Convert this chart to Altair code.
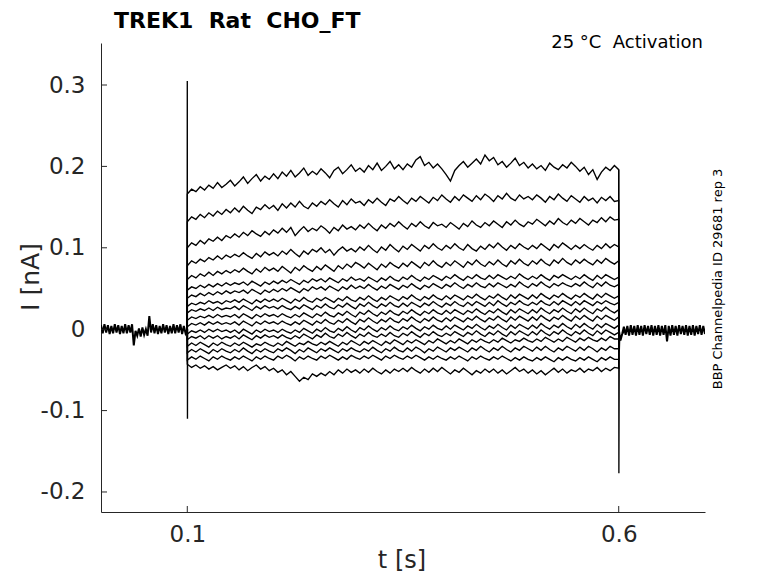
import altair as alt
import numpy as np
import pandas as pd

# ---- data (currents in pA), one value every 5 ms from 0.100 to 0.600 s ----
step_times = np.round(np.linspace(0.1, 0.6, 101), 4)

T1 = [166,172,169,175,171,177,173,180,174,178,
      183,176,181,187,179,185,190,182,188,184,
      191,185,193,188,195,187,192,198,189,194,
      190,197,192,186,195,199,191,196,202,194,
      198,193,201,196,204,195,200,206,197,202,
      196,203,199,208,212,201,205,198,203,197,
      190,182,195,201,206,199,204,209,203,214,
      207,211,202,206,199,204,210,201,205,198,
      203,197,201,195,204,199,196,202,198,205,
      200,194,199,190,196,184,193,199,195,201,
      196]
T2 = [132,138,135,141,137,143,139,145,141,147,
      143,149,144,151,146,142,150,147,153,148,
      152,146,154,149,155,150,157,151,148,155,
      151,157,153,159,154,150,158,153,160,155,
      157,152,159,155,161,156,152,160,157,163,
      158,154,161,157,163,159,155,162,158,165,
      160,156,163,158,165,161,157,164,159,166,
      162,157,164,160,167,161,158,165,160,163,
      159,165,161,156,163,159,166,161,157,164,
      160,156,163,158,161,155,162,158,163,157,
      158]
T3 = [100,106,103,109,105,111,108,113,109,115,
      112,117,113,119,115,121,117,114,120,116,
      122,118,124,119,125,115,121,126,120,124,
      121,127,123,118,125,121,128,123,126,122,
      128,124,130,125,121,128,124,130,126,132,
      127,123,130,126,132,127,124,131,127,129,
      125,131,127,123,130,126,133,128,125,131,
      127,133,129,125,132,128,134,129,126,132,
      129,135,131,127,133,129,136,131,128,134,
      130,136,132,128,134,131,137,132,138,134,
      135]
T4 = [78,84,81,86,83,88,85,90,86,91,
      88,92,89,94,90,87,93,89,95,91,
      94,90,96,92,98,93,89,96,92,98,
      95,100,94,98,91,97,101,96,99,95,
      101,97,103,98,94,101,97,104,99,95,
      102,98,104,100,96,103,99,105,100,97,
      103,99,105,100,97,104,99,96,102,98,
      104,100,106,101,97,103,99,105,101,98,
      103,99,105,101,97,104,100,106,102,98,
      103,99,104,100,97,103,99,105,100,104,
      101]
T5 = [61,66,63,68,65,70,66,71,68,72,
      69,73,70,75,71,68,74,70,76,72,
      75,71,77,73,69,76,72,78,74,71,
      77,73,79,75,71,78,74,80,76,82,
      79,75,81,77,73,80,76,82,78,75,
      81,77,83,79,75,82,78,84,79,76,
      82,78,84,80,76,83,79,85,80,77,
      83,79,85,80,77,84,80,86,81,78,
      84,80,86,81,78,85,81,87,82,79,
      85,81,86,82,79,85,81,87,83,80,
      84]
T6 = [48,52,50,54,51,55,52,56,53,57,
      54,57,55,58,54,59,56,53,58,55,
      59,56,60,57,61,58,55,60,57,62,
      59,62,58,63,60,57,62,59,64,60,
      62,59,64,61,58,63,60,65,61,59,
      64,61,66,62,59,64,61,66,63,60,
      65,62,67,63,60,65,62,67,63,61,
      66,62,67,64,61,65,62,68,64,61,
      65,62,67,63,60,66,63,67,64,61,
      65,62,67,63,60,66,62,67,64,61,
      64]
T7 = [38,42,40,44,41,45,42,46,43,47,
      44,47,45,48,44,49,46,43,48,45,
      49,46,50,47,51,48,45,50,47,52,
      49,52,48,53,50,47,52,49,54,50,
      53,50,55,51,48,53,50,55,52,49,
      54,51,56,52,49,54,51,56,53,50,
      55,52,57,53,50,55,52,57,53,51,
      56,52,57,54,51,55,52,58,54,51,
      56,53,58,54,51,56,53,57,54,52,
      56,53,58,54,51,57,53,58,54,52,
      55]
T8 = [28,32,30,33,31,35,32,34,31,35,
      33,36,33,37,34,31,36,33,37,34,
      37,34,38,35,32,37,34,39,35,33,
      38,35,39,36,33,38,35,40,36,34,
      39,36,41,37,34,39,36,41,38,35,
      40,37,42,38,35,40,37,42,38,36,
      41,37,42,39,36,41,38,43,39,36,
      41,38,43,39,36,42,38,43,40,37,
      42,38,44,40,37,42,39,44,40,37,
      42,39,44,40,37,43,39,44,41,38,
      41]
T9 = [20,24,22,25,23,26,23,27,24,26,
      25,28,24,29,26,23,28,25,29,26,
      28,25,29,26,24,28,25,30,27,24,
      29,26,31,27,25,30,27,32,28,25,
      31,28,33,29,26,31,28,33,29,27,
      32,28,33,30,27,32,29,34,30,27,
      32,29,34,30,28,33,29,34,31,28,
      33,29,35,31,28,33,30,35,31,29,
      33,30,35,31,29,34,30,35,32,29,
      34,30,35,32,29,34,31,35,32,30,
      33]
T10 = [11,15,13,16,14,17,14,18,15,17,
       15,18,14,19,16,13,18,15,19,16,
       18,15,19,16,14,18,15,20,17,14,
       19,16,21,17,15,20,17,22,18,15,
       21,18,23,19,16,21,18,23,19,17,
       22,19,24,20,17,22,19,24,20,18,
       23,19,24,21,18,23,20,25,21,18,
       23,20,25,21,18,24,20,25,22,19,
       24,20,26,22,19,24,21,26,22,19,
       25,21,26,22,19,25,22,27,23,20,
       24]
T11 = [3,7,5,8,5,9,6,9,6,8,
       6,9,5,10,7,4,9,6,10,7,
       9,6,10,7,5,9,6,11,8,5,
       10,7,12,8,6,11,8,13,9,6,
       12,9,14,10,7,12,9,14,10,8,
       13,10,15,11,8,13,10,15,11,9,
       14,10,15,12,9,14,11,16,12,9,
       14,11,16,12,9,15,11,16,13,10,
       15,11,17,13,10,15,12,17,13,10,
       16,12,17,13,10,16,12,17,14,11,
       15]
T12 = [-6,-2,-4,-1,-4,0,-3,0,-3,-1,
       -4,-1,-5,0,-3,-6,-1,-4,0,-3,
       -1,-4,0,-3,-5,-1,-4,1,-2,-5,
       0,-3,2,-2,-4,1,-2,3,-1,-4,
       2,-1,4,0,-3,2,-1,4,0,-2,
       3,0,5,1,-2,3,0,5,1,-1,
       4,0,5,2,-1,4,1,6,2,-1,
       4,1,6,2,-1,5,1,6,3,0,
       5,1,7,3,0,5,2,7,3,0,
       6,2,7,3,0,6,2,7,4,1,
       5]
T13 = [-13,-9,-11,-8,-12,-8,-11,-8,-12,-9,
       -11,-8,-12,-7,-10,-13,-8,-11,-7,-10,
       -8,-11,-7,-10,-12,-8,-11,-6,-9,-12,
       -7,-10,-5,-9,-11,-6,-9,-4,-8,-11,
       -6,-9,-4,-8,-10,-6,-9,-4,-8,-10,
       -5,-8,-3,-7,-10,-5,-8,-3,-7,-9,
       -5,-8,-3,-6,-9,-4,-7,-2,-6,-9,
       -4,-7,-2,-6,-9,-3,-7,-2,-5,-8,
       -3,-7,-1,-5,-8,-3,-6,-1,-5,-8,
       -3,-6,-1,-5,-8,-2,-6,-1,-4,-7,
       -4]
T14 = [-21,-17,-20,-16,-19,-22,-17,-20,-16,-19,
       -21,-17,-20,-16,-19,-22,-18,-20,-16,-19,
       -21,-17,-20,-15,-18,-21,-17,-19,-15,-18,
       -20,-16,-19,-15,-18,-21,-16,-19,-14,-17,
       -20,-15,-18,-14,-17,-20,-15,-18,-13,-16,
       -19,-14,-17,-13,-16,-19,-14,-17,-12,-15,
       -18,-14,-17,-12,-15,-18,-13,-16,-12,-15,
       -17,-13,-16,-11,-14,-17,-13,-15,-11,-14,
       -16,-12,-15,-10,-13,-16,-12,-15,-10,-13,
       -16,-11,-14,-10,-13,-15,-11,-14,-9,-12,
       -12]
T15 = [-29,-25,-28,-24,-27,-30,-25,-28,-24,-27,
       -29,-25,-28,-23,-27,-30,-25,-28,-24,-27,
       -29,-24,-27,-23,-26,-30,-25,-28,-23,-26,
       -29,-24,-27,-23,-26,-29,-24,-27,-23,-26,
       -28,-24,-27,-22,-26,-29,-24,-27,-22,-26,
       -28,-23,-27,-22,-25,-29,-24,-27,-22,-25,
       -28,-23,-26,-22,-25,-28,-23,-26,-21,-25,
       -28,-23,-26,-21,-25,-28,-23,-26,-21,-24,
       -27,-22,-26,-21,-25,-28,-23,-26,-21,-24,
       -27,-22,-26,-21,-24,-28,-23,-26,-21,-24,
       -24]
T16 = [-38,-34,-37,-33,-36,-39,-34,-37,-33,-36,
       -38,-34,-37,-33,-36,-39,-34,-37,-33,-36,
       -38,-33,-36,-32,-35,-39,-34,-37,-33,-36,
       -38,-33,-36,-32,-35,-38,-34,-37,-32,-35,
       -37,-33,-36,-32,-35,-38,-33,-36,-32,-35,
       -37,-33,-36,-32,-35,-38,-34,-37,-33,-36,
       -38,-34,-37,-33,-36,-39,-34,-37,-33,-36,
       -38,-34,-37,-33,-36,-39,-35,-38,-34,-37,
       -39,-35,-38,-34,-37,-40,-35,-38,-34,-37,
       -39,-35,-38,-34,-37,-40,-35,-38,-34,-37,
       -37]
T17 = [-43,-47,-44,-48,-45,-49,-46,-50,-47,-44,
       -48,-45,-50,-46,-51,-47,-44,-49,-46,-51,
       -48,-53,-50,-56,-52,-58,-64,-59,-62,-55,
       -58,-54,-57,-52,-56,-50,-54,-49,-53,-50,
       -54,-49,-53,-48,-52,-55,-50,-54,-49,-52,
       -48,-52,-47,-51,-54,-49,-53,-48,-52,-47,
       -51,-55,-50,-53,-48,-52,-56,-51,-54,-49,
       -53,-49,-54,-50,-55,-51,-47,-52,-49,-54,
       -50,-55,-51,-56,-52,-48,-53,-49,-54,-50,
       -52,-48,-53,-49,-51,-47,-52,-48,-51,-47,
       -48]
traces = [T1, T2, T3, T4, T5, T6, T7, T8, T9, T10, T11, T12, T13, T14, T15, T16, T17]

# holding current before / after the step (pA), every 2 ms
pre_times = np.round(np.arange(0.0, 0.0999, 0.002), 4)
pre_vals = [5,-5,6,-4,5,-6,4,-5,6,-4,
            5,-6,4,-5,6,-5,5,-4,6,-20,
            -2,-8,1,-9,2,-7,0,-8,16,-4,
            6,-5,5,-6,4,-5,6,-4,5,-6,
            4,-5,6,-5,5,-4,6,-6,4,-5]
post_times = np.round(np.arange(0.602, 0.7001, 0.002), 4)
post_vals = [-14,-6,3,-7,4,-8,5,-7,4,-8,
             5,-7,4,-8,5,-6,4,-7,5,-8,
             4,-7,5,-8,4,-7,5,-15,4,-8,
             5,-7,4,-8,5,-6,4,-7,5,-8,
             4,-7,5,-8,4,-6,5,-7,4,-6]

# capacitive transients (nA)
on_t = [0.0998, 0.1, 0.1002, 0.1004]
on_i = [0.0, 0.305, -0.11, 0.0]
off_t = [0.6, 0.6002, 0.6006, 0.601, 0.603, 0.606]
off_i = [0.196, -0.177, -0.03, -0.015, -0.008, -0.003]

y_ticks = [-0.2, -0.1, 0, 0.1, 0.2, 0.3]
x_ticks = [0.1, 0.6]

# ---- build tables ----
rows = []
for k, tr in enumerate(traces):
    assert len(tr) == len(step_times), (k, len(tr))
    rows.append(dict(series=f"s{k}", t=0.1, i=0.0, seq=0))
    for j, (t, v) in enumerate(zip(step_times, tr)):
        rows.append(dict(series=f"s{k}", t=float(t), i=v / 1000.0, seq=j + 1))
    rows.append(dict(series=f"s{k}", t=0.6, i=0.0, seq=len(tr) + 1))
for j, (t, v) in enumerate(zip(on_t, on_i)):
    rows.append(dict(series="on", t=t, i=v, seq=j))
for j, (t, v) in enumerate(zip(off_t, off_i)):
    rows.append(dict(series="off", t=t, i=v, seq=j))
df = pd.DataFrame(rows)

assert len(pre_vals) == len(pre_times)
assert len(post_vals) == len(post_times)
brows = []
for j, (t, v) in enumerate(zip(pre_times, pre_vals)):
    brows.append(dict(series="pre", t=float(t), i=v / 1000.0, seq=j))
brows.append(dict(series="pre", t=0.1, i=0.0, seq=len(pre_vals)))
brows.append(dict(series="post", t=0.6, i=0.0, seq=0))
for j, (t, v) in enumerate(zip(post_times, post_vals)):
    brows.append(dict(series="post", t=float(t), i=v / 1000.0, seq=j + 1))
bdf = pd.DataFrame(brows)

W, H = 604, 469
FONT = "DejaVu Sans"
AX = "#262626"
NB = "\u00a0"
HYPHEN_EXPR = "replace(datum.label, '\u2212', '-')"

xscale = alt.Scale(domain=[0.0, 0.7], nice=False, zero=False)
yscale = alt.Scale(domain=[-0.2246, 0.3516], nice=False, zero=False)

lines = alt.Chart(df).mark_line(color="black", strokeWidth=1.35, clip=True).encode(
    x=alt.X("t:Q", scale=xscale, title=None,
            axis=alt.Axis(values=x_ticks, format=".1f", ticks=False, tickSize=0, grid=False,
                          labelFont=FONT, labelFontSize=23, labelColor=AX,
                          labelPadding=11, domainColor=AX, domainWidth=1)),
    y=alt.Y("i:Q", scale=yscale, title=None,
            axis=alt.Axis(values=y_ticks, format=".1~f", labelExpr=HYPHEN_EXPR,
                          ticks=False, tickSize=0, grid=False,
                          labelFont=FONT, labelFontSize=23, labelColor=AX,
                          labelPadding=16, domainColor=AX, domainWidth=1)),
    detail="series:N",
    order="seq:Q",
)

base = alt.Chart(bdf).mark_line(color="black", strokeWidth=2.0, clip=True).encode(
    x=alt.X("t:Q", scale=xscale),
    y=alt.Y("i:Q", scale=yscale),
    detail="series:N",
    order="seq:Q",
)

ytick_df = pd.DataFrame({"v": y_ticks})
xtick_df = pd.DataFrame({"v": x_ticks})
yticks = alt.Chart(ytick_df).mark_rule(color=AX, strokeWidth=1).encode(
    y=alt.Y("v:Q", scale=yscale), x=alt.value(0), x2=alt.value(6))
xticks = alt.Chart(xtick_df).mark_rule(color=AX, strokeWidth=1).encode(
    x=alt.X("v:Q", scale=xscale), y=alt.value(H - 6), y2=alt.value(H))

def label(text, x, y, size, weight="normal", align="center", angle=0, color=AX):
    return alt.Chart(pd.DataFrame({"txt": [text]})).mark_text(
        font=FONT, fontSize=size, fontWeight=weight, align=align,
        baseline="alphabetic", angle=angle, color=color,
    ).encode(x=alt.value(x), y=alt.value(y), text="txt:N")

title = label(f"TREK1{NB} Rat{NB} CHO_FT", 13, -15, 22, weight="bold", align="left", color="black")
cond = label(f"25 °C{NB} Activation", 602, 5, 18, align="right", color="black")
ylab = label("I [nA]", -62, 234, 25, angle=270)
xlab = label("t [s]", 301, 525, 24)
side = label("BBP Channelpedia ID 29681 rep 3", 621, 236, 13, angle=270, color="black")

chart = alt.layer(lines, base, yticks, xticks, title, cond, ylab, xlab, side).properties(
    width=W, height=H,
    background="white",
    autosize=alt.AutoSizeParams(type="none"),
    padding={"left": 93, "top": 35, "right": 65, "bottom": 63},
).configure_view(stroke="transparent", strokeWidth=0)

chart.save("out.html", embed_options={"renderer": "svg", "actions": False})
